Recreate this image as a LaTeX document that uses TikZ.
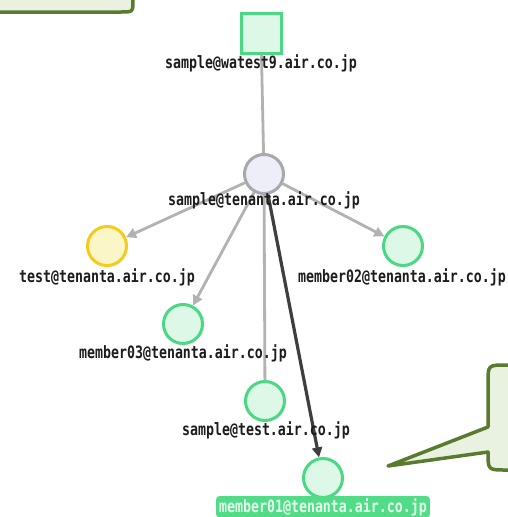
\documentclass[tikz,border=0pt]{standalone}
\usepackage{fontspec}
\newfontfamily\labfont[FakeStretch=0.78]{DejaVu Sans Mono}
\usetikzlibrary{arrows.meta}
\definecolor{ngreen}{HTML}{4BD883}
\definecolor{nfill}{HTML}{DDF8E7}
\definecolor{ngray}{HTML}{A8A8B0}
\definecolor{nlav}{HTML}{EEEEF8}
\definecolor{nyel}{HTML}{F5CB1C}
\definecolor{nyfill}{HTML}{FBF6C8}
\definecolor{egray}{HTML}{B2B2B2}
\definecolor{edark}{HTML}{3E3E3E}
\definecolor{labtext}{HTML}{1C1C1C}
\definecolor{cstroke}{HTML}{5A7A2E}
\definecolor{cfill}{HTML}{E9F2E0}
\definecolor{hlbox}{HTML}{52DC88}
\definecolor{hltext}{HTML}{E4FFEC}
\begin{document}
\begin{tikzpicture}[x=1pt,y=-1pt,
  nd/.style={circle, minimum size=39pt, inner sep=0pt, line width=3pt},
  gnd/.style={nd, draw=ngreen, fill=nfill},
  lab/.style={font=\labfont\bfseries\fontsize{17}{17}\selectfont, text=labtext, inner sep=0pt, anchor=base},
  edge/.style={draw=egray, line width=2.8pt},
  arr/.style={edge, -{Triangle[length=10pt,width=10pt]}},
  darr/.style={draw=edark, line width=3.2pt, -{Triangle[length=10pt,width=10pt]}},
  callout/.style={draw=cstroke, fill=cfill, line width=3.5pt, line join=round},
]
\useasboundingbox (0,0) rectangle (508,517);
\clip (0,0) rectangle (508,517);
\fill[white] (0,0) rectangle (508,517);

% callouts
\path[callout] (-10,-10) -- (-10,12) -- (121,12) .. controls (133,12) .. (133,0) -- (133,-10) -- cycle;
\path[callout] (488,427) -- (388,466) -- (488,452) .. controls (488,470) .. (506,470) -- (530,470) -- (530,365) -- (506,365) .. controls (488,365) .. (488,383) -- cycle;

% nodes
\node[rectangle, minimum size=40pt, inner sep=0pt, line width=3pt, draw=ngreen, fill=nfill] (sq) at (261,33) {};
\node[nd, draw=ngray, fill=nlav] (c) at (264,174) {};
\node[nd, draw=nyel, fill=nyfill] (t) at (107,246) {};
\node[gnd] (m2) at (403,246) {};
\node[gnd] (m3) at (183,324) {};
\node[gnd] (st) at (265,401) {};
\node[gnd] (m1) at (323,478) {};

% edges
\draw[edge] (sq) -- (c);
\draw[arr] (c) -- (t);
\draw[arr] (c) -- (m2);
\draw[arr] (c) -- (m3);
\draw[edge] (c) -- (st);
\draw[darr] (c) -- (m1);

% labels
\node[lab] (lsq) at (261,68) {sample@watest9.air.co.jp};
\node[lab] (lc) at (264,205) {sample@tenanta.air.co.jp};
\node[lab] (lt) at (107,282) {test@tenanta.air.co.jp};
\node[lab] (lm2) at (402,282) {member02@tenanta.air.co.jp};
\node[lab] (lm3) at (183,358) {member03@tenanta.air.co.jp};
\node[lab] (lst) at (266,435) {sample@test.air.co.jp};
\node[lab, fill=hlbox, text=hltext, rounded corners=3pt, inner xsep=3pt, inner ysep=2pt] (lm1) at (323,512) {member01@tenanta.air.co.jp};
\end{tikzpicture}
\end{document}
